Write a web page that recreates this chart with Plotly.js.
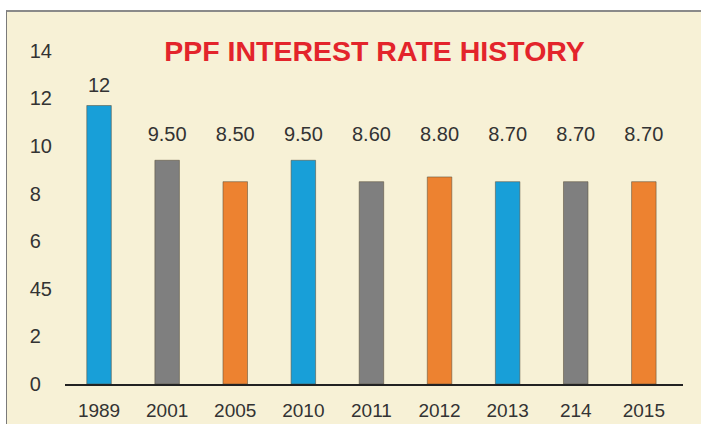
<!DOCTYPE html>
<html>
<head>
<meta charset="utf-8">
<script src="https://cdn.plot.ly/plotly-3.0.1.min.js"></script>
<style>
html, body { margin: 0; padding: 0; overflow: hidden; background: #ffffff; width: 701px; height: 424px; }
#chart { position: absolute; left: 6px; top: 10px; width: 700px; height: 420px; border-left: 1px solid #7a7a7a; border-top: 2px solid #8a8a8a; }
</style>
</head>
<body>
<div id="chart"></div>
<script>
// Data
const categories = ["1989", "2001", "2005", "2010", "2011", "2012", "2013", "214", "2015"];
const values = [11.7, 9.4, 8.5, 9.4, 8.5, 8.7, 8.5, 8.5, 8.5];
const valueLabels = ["12", "9.50", "8.50", "9.50", "8.60", "8.80", "8.70", "8.70", "8.70"];
const barColors = ["#189fd8", "#7f7f7f", "#ed8230", "#189fd8", "#7f7f7f", "#ed8230", "#189fd8", "#7f7f7f", "#ed8230"];
const yTickVals = [0, 2, 4, 6, 8, 10, 12, 14];
const yTickText = ["0", "2", "45", "6", "8", "10", "12", "14"];
const titleText = "PPF INTEREST RATE HISTORY";

const FONT = "Liberation Sans, Arial, Helvetica, sans-serif";
const TXT = "#333333";

// Label placement: labels sit on a common level unless the bar reaches above it
const labelY = values.map(v => Math.max(v + 0.8, 10.43));
const padText = yTickText.map(t => t.length === 1 ? t + "\u2007" : t);

const bars = {
  type: "bar",
  x: categories,
  y: values,
  marker: { color: barColors, line: { color: "rgba(90,80,60,0.55)", width: 1 } },
  hoverinfo: "skip",
  showlegend: false
};

const labels = {
  type: "scatter",
  mode: "text",
  x: categories,
  y: labelY,
  text: valueLabels,
  textposition: "middle center",
  textfont: { family: FONT, size: 20, color: TXT },
  hoverinfo: "skip",
  showlegend: false,
  cliponaxis: false
};

const layout = {
  width: 700,
  height: 420,
  margin: { l: 58, r: 24, t: 15, b: 48 },
  paper_bgcolor: "#f7f1d6",
  plot_bgcolor: "#f7f1d6",
  bargap: 0.64,
  title: {
    text: "<b>" + titleText + "</b>",
    font: { family: FONT, size: 28.5, color: "#e3242b" },
    xref: "container", x: 0.525, xanchor: "center",
    yref: "container", y: 0.907, yanchor: "middle"
  },
  xaxis: {
    type: "category",
    range: [-0.5, 8.575],
    showgrid: false,
    zeroline: false,
    showline: true,
    linecolor: "#222222",
    linewidth: 2,
    ticks: "",
    ticklabelstandoff: 8,
    tickfont: { family: FONT, size: 19, color: TXT },
    fixedrange: true
  },
  yaxis: {
    range: [0, 15],
    showgrid: false,
    zeroline: false,
    showline: false,
    ticks: "",
    tickmode: "array",
    tickvals: yTickVals,
    ticktext: padText,
    ticklabelstandoff: 12,
    tickfont: { family: FONT, size: 20, color: TXT },
    fixedrange: true
  },
  showlegend: false
};

Plotly.newPlot("chart", [bars, labels], layout, { displayModeBar: false, staticPlot: true });
</script>
</body>
</html>
